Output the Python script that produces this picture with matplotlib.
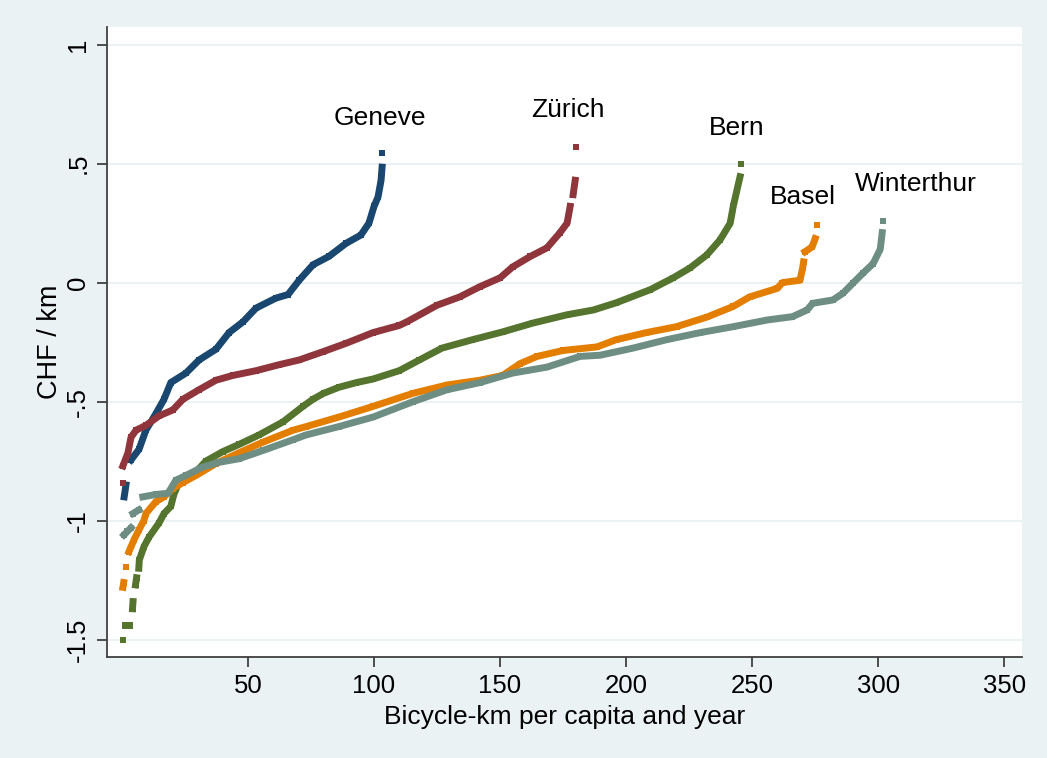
import numpy as np
import matplotlib
matplotlib.use('Agg')
import matplotlib.pyplot as plt

# curves: bicycle-km per capita (x) vs CHF/km (y)
geneve_x = [0.9, 1.6, 3.6, 6.8, 9.5, 13.5, 16.7, 19.4, 25.4, 30.6, 37.3, 42.5, 48, 53.2,
            61.1, 65.9, 70.3, 75.8, 82.1, 88.9, 94.8, 98, 100, 101.6, 102.8, 103.2, 103.2]
geneve_y = [-0.90, -0.85, -0.745, -0.70, -0.62, -0.55, -0.49, -0.42, -0.38, -0.325, -0.28,
            -0.21, -0.165, -0.107, -0.065, -0.05, 0.01, 0.075, 0.11, 0.165, 0.20, 0.25,
            0.32, 0.36, 0.43, 0.485, 0.545]
geneve_breaks = [2, 26]

zurich_x = [0.4, 0.4, 2.4, 3.6, 5.6, 9.5, 14.7, 20.2, 24.2, 30.6, 37.3, 44, 53.2, 62.3,
            70.3, 79.8, 88.9, 99.6, 110, 113, 125, 134, 142, 150, 155, 162, 168.6, 173.8,
            176.6, 177.8, 179, 179.8, 180.2]
zurich_y = [-0.84, -0.77, -0.715, -0.65, -0.62, -0.60, -0.56, -0.535, -0.49, -0.45, -0.41,
            -0.39, -0.37, -0.345, -0.325, -0.29, -0.255, -0.21, -0.18, -0.165, -0.095,
            -0.06, -0.017, 0.02, 0.066, 0.11, 0.146, 0.21, 0.25, 0.32, 0.37, 0.43, 0.57]
zurich_breaks = [1, 30, 32]

bern_x = [0.4, 1.4, 2.8, 4.2, 4.4, 5.4, 5.8, 6.7, 6.9, 8.7, 10.7, 14.7, 16.7, 19.4, 20.6,
          22.6, 29.4, 33.3, 40, 46.4, 54.4, 63.9, 71.8, 75.8, 80, 86, 93, 99.6, 110, 118,
          127, 139, 151, 163, 176.6, 187, 196, 209.5, 218.7, 225.4, 232, 237.3, 241.3,
          242.5, 244, 245.2, 245.6]
bern_y = [-1.50, -1.44, -1.44, -1.37, -1.34, -1.27, -1.24, -1.20, -1.165, -1.11, -1.07,
          -1.01, -0.97, -0.94, -0.89, -0.84, -0.795, -0.75, -0.71, -0.68, -0.64, -0.585,
          -0.52, -0.49, -0.465, -0.44, -0.42, -0.405, -0.37, -0.325, -0.275, -0.24, -0.207,
          -0.17, -0.135, -0.115, -0.085, -0.03, 0.02, 0.062, 0.116, 0.18, 0.25, 0.32, 0.39,
          0.445, 0.50]
bern_breaks = [1, 3, 5, 7, 46]

basel_x = [0.4, 0.7, 1.6, 2.8, 4.8, 6.7, 8.7, 9.5, 13.5, 16.7, 20.2, 24.2, 29.4, 37.3,
           46.4, 56, 67.9, 73, 86, 99.6, 115.5, 129, 142, 151, 158, 164.7, 175, 188.5, 196,
           208, 220, 232, 242.5, 249, 260, 262, 269, 270, 270.4, 271, 273.8, 275, 275.8]
basel_y = [-1.28, -1.26, -1.195, -1.13, -1.08, -1.04, -1.00, -0.97, -0.92, -0.90, -0.865,
           -0.84, -0.81, -0.76, -0.715, -0.67, -0.62, -0.605, -0.565, -0.52, -0.465, -0.43,
           -0.41, -0.39, -0.34, -0.31, -0.285, -0.27, -0.24, -0.21, -0.185, -0.145, -0.10,
           -0.06, -0.024, 0.0, 0.01, 0.06, 0.087, 0.13, 0.15, 0.185, 0.24]
basel_breaks = [2, 3, 39, 42]

winterthur_x = [0.8, 2.2, 3.6, 4.4, 6.7, 8.3, 13.5, 18.3, 21.4, 25.4, 32, 38.5, 46.4, 56,
                67.9, 73, 86, 99.6, 115.5, 129, 142, 155, 168.6, 181.7, 189.7, 202.8, 216,
                229.4, 242.5, 256, 266, 271.8, 274, 282, 286, 290, 294, 298, 300.8, 301.6, 302]
winterthur_y = [-1.06, -1.045, -1.03, -0.97, -0.955, -0.90, -0.89, -0.885, -0.83, -0.81,
                -0.775, -0.755, -0.74, -0.705, -0.66, -0.64, -0.605, -0.565, -0.50, -0.45,
                -0.42, -0.38, -0.355, -0.31, -0.305, -0.275, -0.24, -0.21, -0.185, -0.157,
                -0.143, -0.115, -0.087, -0.073, -0.045, -0.002, 0.04, 0.08, 0.14, 0.21, 0.26]
winterthur_breaks = [3, 5, 40]

cities = ['Geneve', 'Zürich', 'Bern', 'Basel', 'Winterthur']
label_pos = [(102.4, 0.69), (177, 0.725), (244, 0.65), (270, 0.36), (315, 0.415)]

y_ticks = [-1.5, -1, -0.5, 0, 0.5, 1]
y_ticklabels = ['-1.5', '-1', '-.5', '0', '.5', '1']
x_ticks = [50, 100, 150, 200, 250, 300, 350]

series = [(geneve_x, geneve_y, geneve_breaks), (zurich_x, zurich_y, zurich_breaks),
          (bern_x, bern_y, bern_breaks), (basel_x, basel_y, basel_breaks),
          (winterthur_x, winterthur_y, winterthur_breaks)]
colors = ['#1a476f', '#90353b', '#55752f', '#e37e00', '#6e8e84']

plt.rcParams['font.family'] = ['Liberation Sans', 'DejaVu Sans']

bg = '#eaf2f3'
fig = plt.figure(figsize=(10.47, 7.58), dpi=100, facecolor=bg)
ax = fig.add_axes([0.102, 0.1332, 0.874, 0.8312])
ax.set_facecolor('white')

for (xs, ys, brk), c in zip(series, colors):
    xs = np.array(xs)
    ys = np.array(ys)
    idx = [0] + brk + [len(xs)]
    for a, b in zip(idx[:-1], idx[1:]):
        ax.plot(xs[a:b], ys[a:b], color=c, lw=5, marker='s', ms=5, mew=0,
                solid_joinstyle='round', solid_capstyle='projecting', zorder=3)

for name, (lx, ly) in zip(cities, label_pos):
    ax.text(lx, ly, name, fontsize=19, ha='center', va='center', color='black')

ax.set_xlim(-6, 357)
ax.set_ylim(-1.573, 1.074)
ax.set_xticks(x_ticks)
ax.set_yticks(y_ticks)
ax.set_yticklabels(y_ticklabels, rotation=90, va='center')
ax.yaxis.grid(True, color=bg, lw=1.5, zorder=0)
ax.set_axisbelow(True)

for s in ['top', 'right']:
    ax.spines[s].set_visible(False)
for s in ['left', 'bottom']:
    ax.spines[s].set_color('#404040')
    ax.spines[s].set_linewidth(1.3)
ax.tick_params(axis='both', length=7, width=1.3, color='#404040', labelsize=18.5)
ax.tick_params(axis='x', pad=5)
ax.tick_params(axis='y', pad=5)

ax.set_xlabel('Bicycle-km per capita and year', fontsize=19, labelpad=5)
ax.set_ylabel('CHF / km', fontsize=19.5, labelpad=2)

fig.savefig('out.png', dpi=100, facecolor=bg)
